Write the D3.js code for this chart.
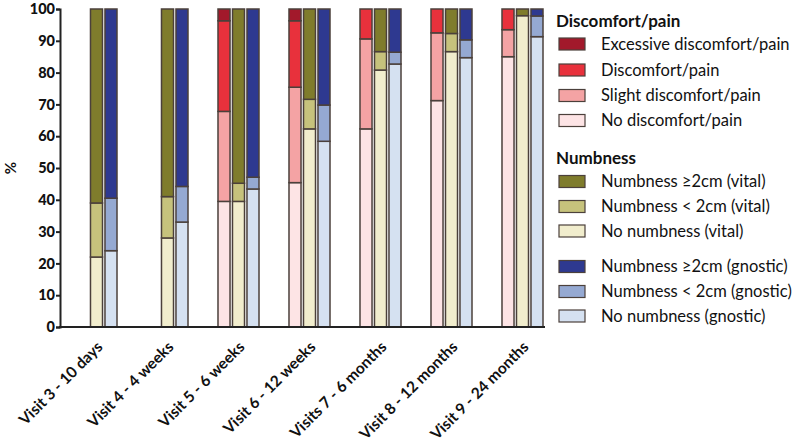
<!DOCTYPE html>
<html><head><meta charset="utf-8">
<script src="https://cdn.jsdelivr.net/npm/d3@7"></script>
<style>body{margin:0;background:#fff}svg{display:block}</style>
</head><body><svg id="c" width="800" height="447"></svg>
<script>
const visits = ["Visit 3 - 10 days","Visit 4 - 4 weeks","Visit 5 - 6 weeks","Visit 6 - 12 weeks","Visits 7 - 6 months","Visit 8 - 12 months","Visit 9 - 24 months"];
// Discomfort/pain (null = not measured)
const noPain        = [null, null, 39.5, 45.4, 62.3, 71.2, 85];
const slightPain    = [null, null, 28.3, 30.0, 28.3, 21.3, 8.5];
const pain          = [null, null, 28.5, 20.9, 9.4, 7.5, 6.5];
const excessivePain = [null, null, 3.7, 3.7, 0, 0, 0];
// Numbness (vital)
const noNumbVital    = [22, 28, 39.5, 62.3, 80.8, 86.6, 97.9];
const smallNumbVital = [17, 13, 5.7, 9.3, 5.8, 5.7, 0];
const bigNumbVital   = [61, 59, 54.8, 28.4, 13.4, 7.7, 2.1];
// Numbness (gnostic)
const noNumbGnostic    = [24, 33, 43.4, 58.4, 82.7, 84.7, 91.3];
const smallNumbGnostic = [16.5, 11.2, 3.7, 11.4, 3.7, 5.6, 6.5];
const bigNumbGnostic   = [59.5, 55.8, 52.9, 30.2, 13.6, 9.7, 2.2];
const yTicks = [0,10,20,30,40,50,60,70,80,90,100];

const groups = [
  {key:"pain", series:[
    {name:"No discomfort/pain", values:noPain, color:"#fde4e5"},
    {name:"Slight discomfort/pain", values:slightPain, color:"#f4a3a4"},
    {name:"Discomfort/pain", values:pain, color:"#e8313c"},
    {name:"Excessive discomfort/pain", values:excessivePain, color:"#a2192b"}]},
  {key:"vital", series:[
    {name:"No numbness (vital)", values:noNumbVital, color:"#f1edcd"},
    {name:"Numbness < 2cm (vital)", values:smallNumbVital, color:"#c6c27c"},
    {name:"Numbness \u22652cm (vital)", values:bigNumbVital, color:"#7f7c2c"}]},
  {key:"gnostic", series:[
    {name:"No numbness (gnostic)", values:noNumbGnostic, color:"#d5e1f1"},
    {name:"Numbness < 2cm (gnostic)", values:smallNumbGnostic, color:"#95a9d2"},
    {name:"Numbness \u22652cm (gnostic)", values:bigNumbGnostic, color:"#2e3990"}]}
];

const svg = d3.select("#c");
const y = d3.scaleLinear().domain([0,100]).range([327,9]);
const x0 = d3.scaleBand().domain(visits).range([61,558]).paddingInner(0.4225).paddingOuter(0.21125);
const x1 = d3.scaleBand().domain(groups.map(g=>g.key)).range([0,x0.bandwidth()]).paddingInner(0.17).paddingOuter(0);
const stroke = "#4b403b";

// bars
groups.forEach(g=>{
  visits.forEach((v,i)=>{
    if (g.series[0].values[i]==null) return;
    let base = 0;
    g.series.forEach(s=>{
      const val = s.values[i];
      if (val>0){
        svg.append("rect")
          .attr("x", x0(v)+x1(g.key))
          .attr("width", x1.bandwidth())
          .attr("y", y(base+val))
          .attr("height", y(base)-y(base+val))
          .attr("fill", s.color)
          .attr("stroke", stroke).attr("stroke-width",1.5);
      }
      base += val;
    });
  });
});

// y axis
const yAxis = svg.append("g").attr("transform","translate(60,0)")
  .call(d3.axisLeft(y).tickValues(yTicks).tickSize(4).tickPadding(1));
yAxis.select(".domain").attr("stroke","#222").attr("stroke-width",2);
yAxis.selectAll(".tick line").attr("stroke","#222").attr("stroke-width",2);
yAxis.selectAll("text").attr("font-family","Lato, 'Open Sans', sans-serif").attr("font-weight","900").attr("font-size",14.5).attr("fill","#111");
svg.append("text").attr("transform","translate(16,168) rotate(-90)").attr("text-anchor","middle")
  .attr("font-family","Lato, sans-serif").attr("font-weight","bold").attr("font-size",15).attr("fill","#111").text("%");

// x axis
svg.append("line").attr("x1",59).attr("x2",545).attr("y1",327).attr("y2",327).attr("stroke","#222").attr("stroke-width",2);
const xl = svg.append("g");
visits.forEach(v=>{
  const c = x0(v)+x0.bandwidth()/2;
  xl.append("text").attr("transform",`translate(${c+7},348) rotate(-45)`).attr("text-anchor","end")
    .attr("font-family","Lato, sans-serif").attr("font-weight","bold").attr("font-size",15.5).attr("fill","#111").text(v);
});

// legend
const lg = svg.append("g").attr("font-family","Lato, 'Open Sans', sans-serif").attr("fill","#111");
lg.append("text").attr("x",556).attr("y",27).attr("font-weight","bold").attr("font-size",17).text("Discomfort/pain");
lg.append("text").attr("x",556).attr("y",164).attr("font-weight","bold").attr("font-size",17).text("Numbness");
const legendItems = [
  [groups[0].series[3],44],[groups[0].series[2],70],[groups[0].series[1],95.5],[groups[0].series[0],120.5],
  [groups[1].series[2],181.5],[groups[1].series[1],206.5],[groups[1].series[0],231],
  [groups[2].series[2],266.5],[groups[2].series[1],291.5],[groups[2].series[0],316]
];
legendItems.forEach(([s,cy])=>{
  lg.append("rect").attr("x",559).attr("y",cy-6).attr("width",26).attr("height",12).attr("fill",s.color).attr("stroke",stroke).attr("stroke-width",1.2);
  lg.append("text").attr("x",601).attr("y",cy+5.5).attr("font-size",16.5).text(s.name);
});
</script></body></html>
